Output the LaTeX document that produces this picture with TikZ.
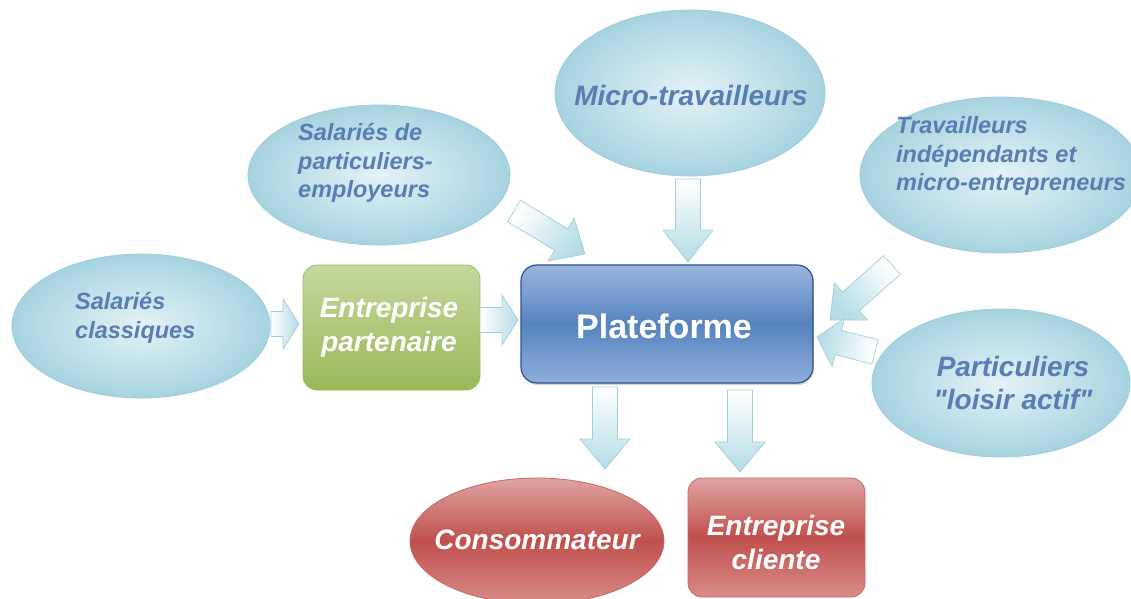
\documentclass[tikz,border=0pt]{standalone}
\usepackage{fontspec}
\setmainfont{Liberation Sans}[Ligatures=TeXOff]
\usetikzlibrary{shapes.geometric,calc,shadows}

\definecolor{ellout}{HTML}{A6D3E0}
\definecolor{ellin}{HTML}{E4F3F7}
\definecolor{elldraw}{HTML}{A0CDD9}
\definecolor{elltext}{HTML}{5A7DB4}
\definecolor{arrfill}{HTML}{B3DCE7}
\definecolor{arrdraw}{HTML}{A2CEDA}
\definecolor{grtop}{HTML}{C4D89E}
\definecolor{grbot}{HTML}{98B957}
\definecolor{grdraw}{HTML}{9DBB62}
\definecolor{bltop}{HTML}{9AB6DD}
\definecolor{blmid}{HTML}{5683BF}
\definecolor{blbot}{HTML}{8FAEDA}
\definecolor{bldraw}{HTML}{2F5386}
\definecolor{rdtop}{HTML}{DFA3A2}
\definecolor{rdmid}{HTML}{C0504D}
\definecolor{rdbot}{HTML}{D98C8A}
\definecolor{rddraw}{HTML}{C76966}

\tikzset{
  bubble/.style={ellipse, draw=elldraw, line width=0.8pt, inner color=ellin, outer color=ellout, inner sep=0pt},
  smalltext/.style={text=elltext, font=\fontsize{23.5}{28.5}\selectfont\bfseries\itshape, align=left, inner sep=0pt},
  bigtext/.style={text=elltext, font=\fontsize{28}{33}\selectfont\bfseries\itshape, align=center, inner sep=0pt},
  whitetext/.style={text=white, font=\fontsize{28}{34}\selectfont\bfseries\itshape, align=center},
  greenbox/.style={rectangle, rounded corners=14pt, draw=grdraw, line width=0.8pt, top color=grtop, bottom color=grbot, minimum width=177pt, minimum height=125pt},
  bluebox/.style={rectangle, rounded corners=16pt, draw=bldraw, line width=1.2pt, top color=bltop, bottom color=blbot, middle color=blmid, minimum width=292pt, minimum height=118pt, drop shadow={opacity=0.35, shadow xshift=1pt, shadow yshift=-2pt}},
  redbox/.style={rectangle, rounded corners=14pt, draw=rddraw, line width=0.8pt, top color=rdtop, bottom color=rdbot, middle color=rdmid, minimum width=177pt, minimum height=119pt},
  redbubble/.style={ellipse, draw=rddraw, line width=0.8pt, top color=rdtop, bottom color=rdbot, middle color=rdmid, inner sep=0pt},
  flow/.style={draw=arrdraw, line width=0.7pt, top color=white, bottom color=arrfill}
}

% block arrow: [shading angle] {tail} {tip} {head length}
\newcommand\flowarrow[4][0]{%
  \path ($(#3)!#4!(#2)$) coordinate (hb);
  \path[flow, shading angle=#1]
    ($(#2)!12.5pt!-90:(#3)$) -- ($(hb)!12.5pt!90:(#2)$) -- ($(hb)!25pt!90:(#2)$)
    -- (#3) -- ($(hb)!25pt!-90:(#2)$) -- ($(hb)!12.5pt!-90:(#2)$)
    -- ($(#2)!12.5pt!90:(#3)$) -- cycle;}

\begin{document}
\begin{tikzpicture}[x=1pt, y=-1pt]
  \useasboundingbox (0,0) rectangle (1131,598);
  \clip (0,0) rectangle (1131,598);

  % shapes
  \node[bubble, minimum width=258pt, minimum height=144pt] (salc) at (141,326) {};
  \node[bubble, minimum width=262pt, minimum height=140pt] (spe) at (379,175) {};
  \node[bubble, minimum width=270pt, minimum height=166pt] (micro) at (690,93) {};
  \node[bubble, minimum width=282pt, minimum height=156pt] (trav) at (1001,175) {};
  \node[bubble, minimum width=258pt, minimum height=148pt] (part) at (1001,383) {};
  \node[greenbox] (entp) at (391.5,327.5) {};
  \node[bluebox] (plat) at (667,324) {};
  \node[redbubble, minimum width=254pt, minimum height=126pt] (cons) at (537,541) {};
  \node[redbox] (cli) at (776.5,537.5) {};

  % texts
  \node[smalltext, anchor=west] (salct) at (75,318) {Salariés\\classiques};
  \node[smalltext, anchor=west] (spet) at (298,163) {Salariés de\\particuliers-\\employeurs};
  \node[bigtext] (microt) at (691,95) {Micro-travailleurs};
  \node[smalltext, anchor=west] (travt) at (896,156) {Travailleurs\\indépendants et\\micro-entrepreneurs};
  \node[bigtext] (partt) at (1013,383) {Particuliers\\"loisir actif"};
  \node[whitetext] (entpt) at (389,327) {Entreprise\\partenaire};
  \node[text=white, font=\fontsize{34}{40}\selectfont\bfseries] (platt) at (664,326) {Plateforme};
  \node[whitetext] (const) at (537,540) {Consommateur};
  \node[whitetext] (clit) at (776,542) {Entreprise\\cliente};

  % connector end points
  \coordinate (a1s) at (271,324);
  \coordinate (a1e) at (299,324);
  \coordinate (a2s) at (480,320);
  \coordinate (a2e) at (518,320);
  \coordinate (a3s) at (688,179);
  \coordinate (a3e) at (688,262);
  \coordinate (a4s) at (514,211);
  \coordinate (a4e) at (585,254);
  \coordinate (a5s) at (892,265);
  \coordinate (a5e) at (830,320);
  \coordinate (a6s) at (875,352);
  \coordinate (a6e) at (817,337);
  \coordinate (a7s) at (605,387);
  \coordinate (a7e) at (605,469);
  \coordinate (a8s) at (740,390);
  \coordinate (a8e) at (740,472);

  % block arrows
  \flowarrow[90]{a1s}{a1e}{16pt}
  \flowarrow[90]{a2s}{a2e}{16pt}
  \flowarrow[0]{a3s}{a3e}{32pt}
  \flowarrow[57]{a4s}{a4e}{28pt}
  \flowarrow[311]{a5s}{a5e}{28pt}
  \flowarrow[255]{a6s}{a6e}{22pt}
  \flowarrow[0]{a7s}{a7e}{30pt}
  \flowarrow[0]{a8s}{a8e}{30pt}
\end{tikzpicture}
\end{document}
